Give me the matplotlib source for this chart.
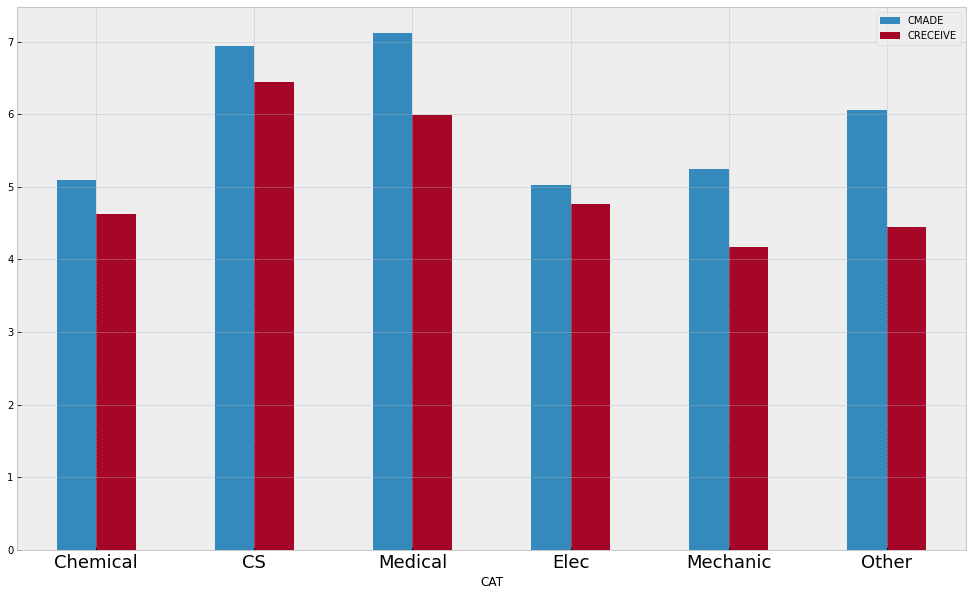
import matplotlib
matplotlib.use("Agg")
import matplotlib.pyplot as plt
import numpy as np

plt.style.use("bmh")

categories = ["Chemical", "CS", "Medical", "Elec", "Mechanic", "Other"]
cmade = [5.10, 6.94, 7.12, 5.02, 5.24, 6.06]
creceive = [4.62, 6.45, 5.99, 4.76, 4.17, 4.45]

fig = plt.figure(figsize=(972/72, 596/72), dpi=72)
ax = fig.add_axes([17/972, 1 - 550/596, (966-17)/972, (550-7)/596])

x = np.arange(len(categories))
w = 0.25
ax.bar(x - w/2, cmade, w, label="CMADE", color="#348ABD")
ax.bar(x + w/2, creceive, w, label="CRECEIVE", color="#A60628")
ax.set_xlim(-0.5, len(categories) - 0.5)
ax.set_xticks(x)
ax.set_xticklabels(categories, fontsize=18)
ax.set_xlabel("CAT")
ax.legend(loc="upper right")

fig.savefig("out.png", dpi=72)
